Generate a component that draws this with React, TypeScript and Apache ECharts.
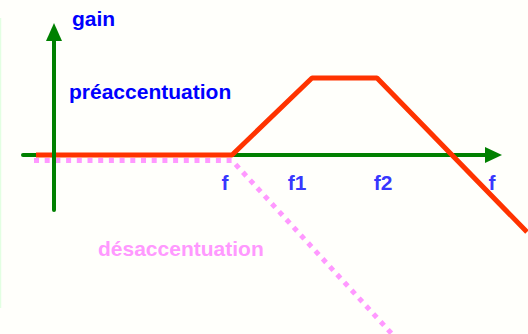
import React, { useEffect, useRef } from "react";
import * as echarts from "echarts";

// Schematic Bode-like diagram: gain vs frequency (arbitrary units)
const preX = [-1.8, 17.8, 25.8, 32.3, 47.3];
const preY = [0, 0, 7.7, 7.7, -7.7];
const desX = [-2.0, 17.8, 33.8];
const desY = [-0.55, -0.55, -17.9];
const freqLabels = ["f", "f1", "f2", "f"];
const freqLabelX = [17.1, 24.3, 32.9, 43.8];
const freqLabelY = -2.7;

const GREEN = "#008000";
const RED = "#ff3300";
const BLUE = "#0000ff";
const PINK = "#ff99ff";
const FONT = "Liberation Sans";

const hiddenAxis = {
  type: "value",
  axisLine: { show: false },
  axisTick: { show: false },
  axisLabel: { show: false },
  splitLine: { show: false },
};

export default function App() {
  const ref = useRef<HTMLDivElement>(null);
  useEffect(() => {
    if (!ref.current) return;
    const chart = echarts.init(ref.current, null, { renderer: "svg" });
    const pre = preX.map((x, i) => [x, preY[i]]);
    const des = desX.map((x, i) => [x, desY[i]]);
    const lab = freqLabels.map((n, i) => ({ name: n, value: [freqLabelX[i], freqLabelY] }));
    chart.setOption({
      animation: false,
      backgroundColor: "#fffffb",
      grid: [
        { left: 0, right: 0, top: 0, bottom: 0 },
        { left: 23, right: 34.5, top: 32, bottom: 124 },
      ],
      xAxis: [
        { ...hiddenAxis, gridIndex: 0, min: -5.4, max: 47.4 },
        {
          type: "value",
          gridIndex: 1,
          min: -3.1,
          max: 43.95,
          z: 0,
          axisLine: {
            show: true,
            onZero: true,
            symbol: ["none", "triangle"],
            symbolSize: [16, 17],
            lineStyle: { color: GREEN, width: 4 },
          },
          axisTick: { show: false },
          axisLabel: { show: false },
          splitLine: { show: false },
        },
      ],
      yAxis: [
        { ...hiddenAxis, gridIndex: 0, min: -17.9, max: 15.5 },
        {
          type: "value",
          gridIndex: 1,
          min: -5.5,
          max: 12.3,
          z: 5,
          axisLine: {
            show: true,
            onZero: true,
            symbol: ["none", "triangle"],
            symbolSize: [16, 18],
            lineStyle: { color: GREEN, width: 4 },
          },
          axisTick: { show: false },
          axisLabel: { show: false },
          splitLine: { show: false },
        },
      ],
      series: [
        {
          type: "line",
          name: "désaccentuation",
          xAxisIndex: 0,
          yAxisIndex: 0,
          data: des,
          clip: false,
          symbol: "none",
          silent: true,
          z: 1,
          lineStyle: { color: PINK, width: 5, type: [5, 5.7], cap: "butt", join: "miter" },
        },
        {
          type: "line",
          name: "préaccentuation",
          xAxisIndex: 0,
          yAxisIndex: 0,
          data: pre,
          clip: false,
          symbol: "none",
          silent: true,
          z: 2,
          lineStyle: { color: RED, width: 5, cap: "butt", join: "bevel" },
        },
        {
          type: "scatter",
          xAxisIndex: 0,
          yAxisIndex: 0,
          data: lab,
          clip: false,
          symbolSize: 1,
          silent: true,
          itemStyle: { color: "rgba(0,0,0,0)" },
          label: {
            show: true,
            position: "inside",
            formatter: (p: any) => p.name,
            color: BLUE,
            fontSize: 21,
            fontWeight: "bold",
            fontFamily: FONT,
          },
        },
      ],
      graphic: [
        {
          type: "line",
          shape: { x1: 0.5, y1: 18, x2: 0.5, y2: 308 },
          style: { stroke: "#e2ffe2", lineWidth: 1.5 },
          silent: true,
        },
        {
          type: "text",
          x: 72,
          y: 18.5,
          style: { text: "gain", fill: BLUE, fontSize: 21, fontWeight: "bold", fontFamily: FONT, verticalAlign: "middle", align: "left" },
        },
        {
          type: "text",
          x: 69,
          y: 91,
          style: { text: "préaccentuation", fill: BLUE, fontSize: 21, fontWeight: "bold", fontFamily: FONT, verticalAlign: "middle", align: "left" },
        },
        {
          type: "text",
          x: 98,
          y: 248.7,
          style: { text: "désaccentuation", fill: PINK, fontSize: 21, fontWeight: "bold", fontFamily: FONT, verticalAlign: "middle", align: "left" },
        },
      ],
    });
    return () => chart.dispose();
  }, []);
  return <div ref={ref} style={{ position: "absolute", left: 0, top: 0, width: 528, height: 334 }} />;
}
